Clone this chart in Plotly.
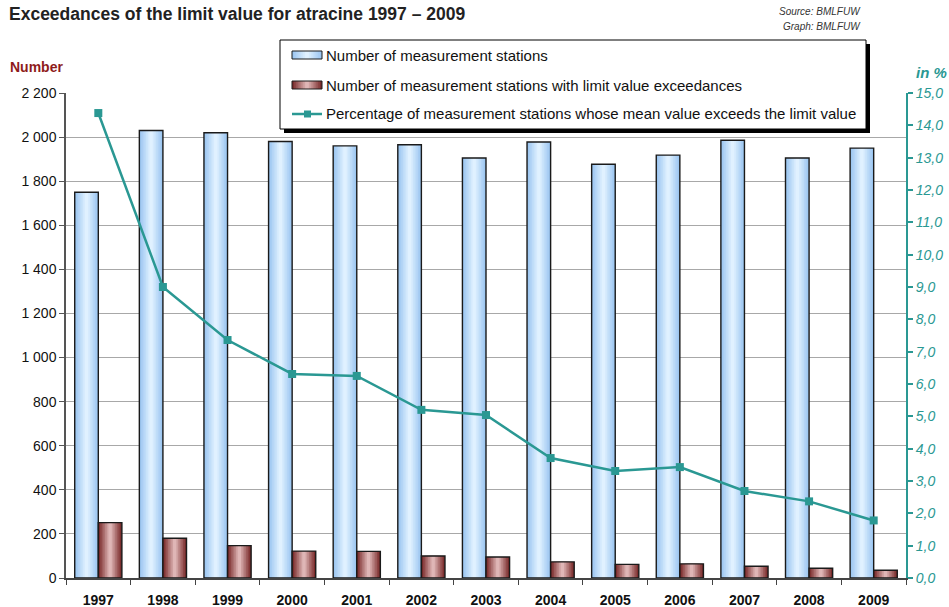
import plotly.graph_objects as go

# Atrazine monitoring data, 1997-2009
years = ["1997", "1998", "1999", "2000", "2001", "2002", "2003",
         "2004", "2005", "2006", "2007", "2008", "2009"]
stations = [1750, 2030, 2020, 1980, 1960, 1965, 1905, 1978, 1877, 1918, 1986, 1905, 1950]
exceedances = [251, 180, 147, 122, 121, 100, 95, 73, 62, 64, 53, 44, 35]
percent = [14.38, 9.0, 7.36, 6.31, 6.25, 5.2, 5.04, 3.71, 3.31, 3.43, 2.69, 2.37, 1.78]

left_ticks = list(range(0, 2201, 200))
right_ticks = list(range(0, 16))

FONT = "Liberation Sans, Arial, sans-serif"
TEAL = "#2a9893"
DARKRED = "#8e1b1b"

# plot area in pixels
W, H = 949, 607
L, R, T, B = 66, 43, 93, 29
PW, PH = W - L - R, H - T - B


def px(x):
    return (x - L) / PW


def py(y):
    return (H - B - y) / PH


def mix(c1, c2, t):
    a = [int(c1[i:i + 2], 16) for i in (1, 3, 5)]
    b = [int(c2[i:i + 2], 16) for i in (1, 3, 5)]
    return "#%02x%02x%02x" % tuple(round(a[k] + (b[k] - a[k]) * t) for k in range(3))


fig = go.Figure()

BW = 0.365  # bar width in category units
BLUE_EDGE, BLUE_MID = "#9cc6f1", "#e0f1ff"
RED_EDGE, RED_MID = "#7a2c2c", "#dfb6b6"


def gradient_bars(values, offset, edge, centre, name):
    n = 7
    for i in range(n):
        f = 0.5 * i / n
        fig.add_trace(go.Bar(
            x=years, y=values, offset=offset + f * BW, width=BW * (1 - 2 * f),
            marker=dict(color=mix(edge, centre, i / (n - 1)), line=dict(width=0)),
            showlegend=False, hoverinfo="skip",
        ))
    fig.add_trace(go.Bar(
        x=years, y=values, offset=offset, width=BW, name=name,
        marker=dict(color="rgba(0,0,0,0)", line=dict(color="#1a1a1a", width=1.4)),
        showlegend=False,
    ))


gradient_bars(stations, -BW, BLUE_EDGE, BLUE_MID, "Number of measurement stations")
gradient_bars(exceedances, 0, RED_EDGE, RED_MID,
              "Number of measurement stations with limit value exceedances")

fig.add_trace(go.Scatter(
    x=years, y=percent, yaxis="y2", mode="lines+markers",
    line=dict(color=TEAL, width=2.5),
    marker=dict(symbol="square", size=8, color=TEAL),
    name="Percentage of measurement stations whose mean value exceeds the limit value",
    showlegend=False,
))

shapes = []
annotations = []

# legend box with drop shadow
lx0, ly0, lx1, ly1 = 280, 40, 866, 129
shapes.append(dict(type="rect", xref="paper", yref="paper",
                   x0=px(lx0 + 4), x1=px(lx1 + 4), y0=py(ly1 + 4), y1=py(ly0 + 4),
                   fillcolor="black", line=dict(width=0), layer="above"))
shapes.append(dict(type="rect", xref="paper", yref="paper",
                   x0=px(lx0), x1=px(lx1), y0=py(ly1), y1=py(ly0),
                   fillcolor="white", line=dict(color="black", width=1), layer="above"))


def legend_swatch(yc, edge, centre):
    n = 8
    for i in range(n):
        f = 0.5 * i / n
        w = 30
        shapes.append(dict(type="rect", xref="paper", yref="paper",
                           x0=px(292 + f * w), x1=px(322 - f * w),
                           y0=py(yc + 4), y1=py(yc - 4),
                           fillcolor=mix(edge, centre, i / (n - 1)),
                           line=dict(width=0), layer="above"))
    shapes.append(dict(type="rect", xref="paper", yref="paper",
                       x0=px(292), x1=px(322), y0=py(yc + 4), y1=py(yc - 4),
                       fillcolor="rgba(0,0,0,0)", line=dict(color="#1a1a1a", width=1),
                       layer="above"))


legend_swatch(55, BLUE_EDGE, BLUE_MID)
legend_swatch(85, RED_EDGE, RED_MID)
shapes.append(dict(type="line", xref="paper", yref="paper",
                   x0=px(292), x1=px(322), y0=py(114), y1=py(114),
                   line=dict(color=TEAL, width=2.5), layer="above"))
shapes.append(dict(type="rect", xref="paper", yref="paper",
                   x0=px(304), x1=px(311), y0=py(117.5), y1=py(110.5),
                   fillcolor=TEAL, line=dict(width=0), layer="above"))

legend_texts = [
    (55, "Number of measurement stations"),
    (85, "Number of measurement stations with limit value exceedances"),
    (114, "Percentage of measurement stations whose mean value exceeds the limit value"),
]
for yc, txt in legend_texts:
    annotations.append(dict(xref="paper", yref="paper", x=px(324), y=py(yc),
                            xanchor="left", yanchor="middle", text=txt, showarrow=False,
                            font=dict(family=FONT, size=15, color="#111111")))

# titles and notes
annotations.append(dict(xref="paper", yref="paper", x=px(7), y=py(14),
                        xanchor="left", yanchor="middle", showarrow=False,
                        text="<b>Exceedances of the limit value for atracine 1997 – 2009</b>",
                        font=dict(family=FONT, size=17.5, color="#222222")))
annotations.append(dict(xref="paper", yref="paper", x=px(863), y=py(12),
                        xanchor="right", yanchor="middle", showarrow=False,
                        text="<i>Source: BMLFUW</i>",
                        font=dict(family=FONT, size=10, color="#333333")))
annotations.append(dict(xref="paper", yref="paper", x=px(863), y=py(26),
                        xanchor="right", yanchor="middle", showarrow=False,
                        text="<i>Graph: BMLFUW</i>",
                        font=dict(family=FONT, size=10, color="#333333")))
annotations.append(dict(xref="paper", yref="paper", x=px(8), y=py(67),
                        xanchor="left", yanchor="middle", showarrow=False,
                        text="<b>Number</b>",
                        font=dict(family=FONT, size=14, color=DARKRED)))
annotations.append(dict(xref="paper", yref="paper", x=px(949), y=py(73),
                        xanchor="right", yanchor="middle", showarrow=False,
                        text="<b><i>in %</i></b>",
                        font=dict(family=FONT, size=15, color=TEAL)))

fig.update_layout(
    width=W, height=H,
    margin=dict(l=L, r=R, t=T, b=B, pad=0, autoexpand=False),
    paper_bgcolor="white", plot_bgcolor="white",
    barmode="overlay",
    separators=", ",
    showlegend=False,
    font=dict(family=FONT, size=14, color="#111111"),
    xaxis=dict(
        type="category", range=[-0.5, 12.5], automargin=False,
        tickson="boundaries", ticks="outside", ticklen=5, tickcolor="#444444",
        showline=True, linecolor="#444444", linewidth=1.5,
        showgrid=False, ticklabelstandoff=8,
        tickfont=dict(family=FONT, size=14, color="#111111", weight="bold"),
    ),
    yaxis=dict(
        range=[0, 2200], tickvals=left_ticks, tickformat=",d", automargin=False,
        showgrid=True, gridcolor="#a8a8a8", gridwidth=1,
        showline=True, linecolor="#555555", linewidth=1.5,
        ticks="outside", ticklen=5, tickcolor="#555555",
        tickfont=dict(family=FONT, size=14, color="#111111"),
        zeroline=False,
    ),
    yaxis2=dict(
        range=[0, 15], tickvals=right_ticks, tickformat=".1f", automargin=False,
        overlaying="y", side="right", showgrid=False, zeroline=False,
        showline=True, linecolor=TEAL, linewidth=2,
        ticks="outside", ticklen=5, tickcolor=TEAL, tickwidth=1.5,
        tickfont=dict(family=FONT, size=14, color=TEAL, style="italic"),
    ),
    shapes=shapes,
    annotations=annotations,
)

fig.write_html("out.html")
